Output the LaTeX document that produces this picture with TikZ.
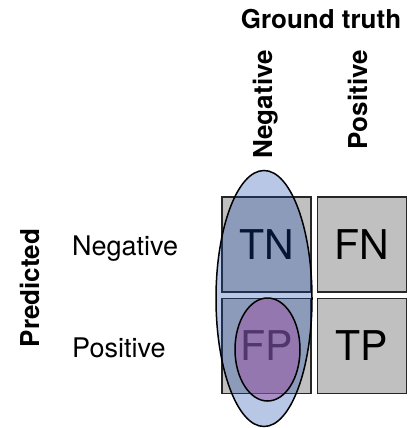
\documentclass[tikz,border=0pt]{standalone}
\usepackage{fontspec}
\setmainfont{TeX Gyre Heros}
\definecolor{cellgray}{RGB}{192,192,192}
\definecolor{negblue}{RGB}{20,70,170}
\definecolor{fpviolet}{RGB}{156,85,167}
\begin{document}
\begin{tikzpicture}[x=1pt,y=-1pt,
		cell/.style={draw=black!85,line width=1.6pt,fill=cellgray,minimum width=89pt,minimum height=95pt,inner sep=0pt,font=\fontsize{41}{41}\selectfont},
		head/.style={inner sep=0pt,font=\fontsize{26}{26}\selectfont\bfseries},
		side/.style={inner sep=0pt,font=\fontsize{27}{27}\selectfont}]
		\useasboundingbox (0,0) rectangle (409,428);
		\node[cell] (tn) at (266.5,244.5) {TN};
		\node[cell] (fn) at (362,244.5) {FN};
		\node[cell] (fp) at (266.5,346) {FP};
		\node[cell] (tp) at (362,346) {TP};
		\draw[line width=1.5pt,fill=negblue,fill opacity=0.3] (264,298.5) ellipse [x radius=48,y radius=128];
		\draw[line width=1.5pt,fill=fpviolet,fill opacity=0.5] (267.5,349.5) ellipse [x radius=32.5,y radius=51.5];
		\node[head,anchor=base] (truth) at (321,29) {Ground truth};
		\node[head,rotate=90,anchor=base east] (colneg) at (272,50) {Negative};
		\node[head,rotate=90,anchor=base east] (colpos) at (367,50) {Positive};
		\node[head,rotate=90,anchor=base] (pred) at (39,288) {Predicted};
		\node[side,anchor=base west] (rowneg) at (72,255) {Negative};
		\node[side,anchor=base west] (rowpos) at (72,357) {Positive};
	\end{tikzpicture}
\end{document}
